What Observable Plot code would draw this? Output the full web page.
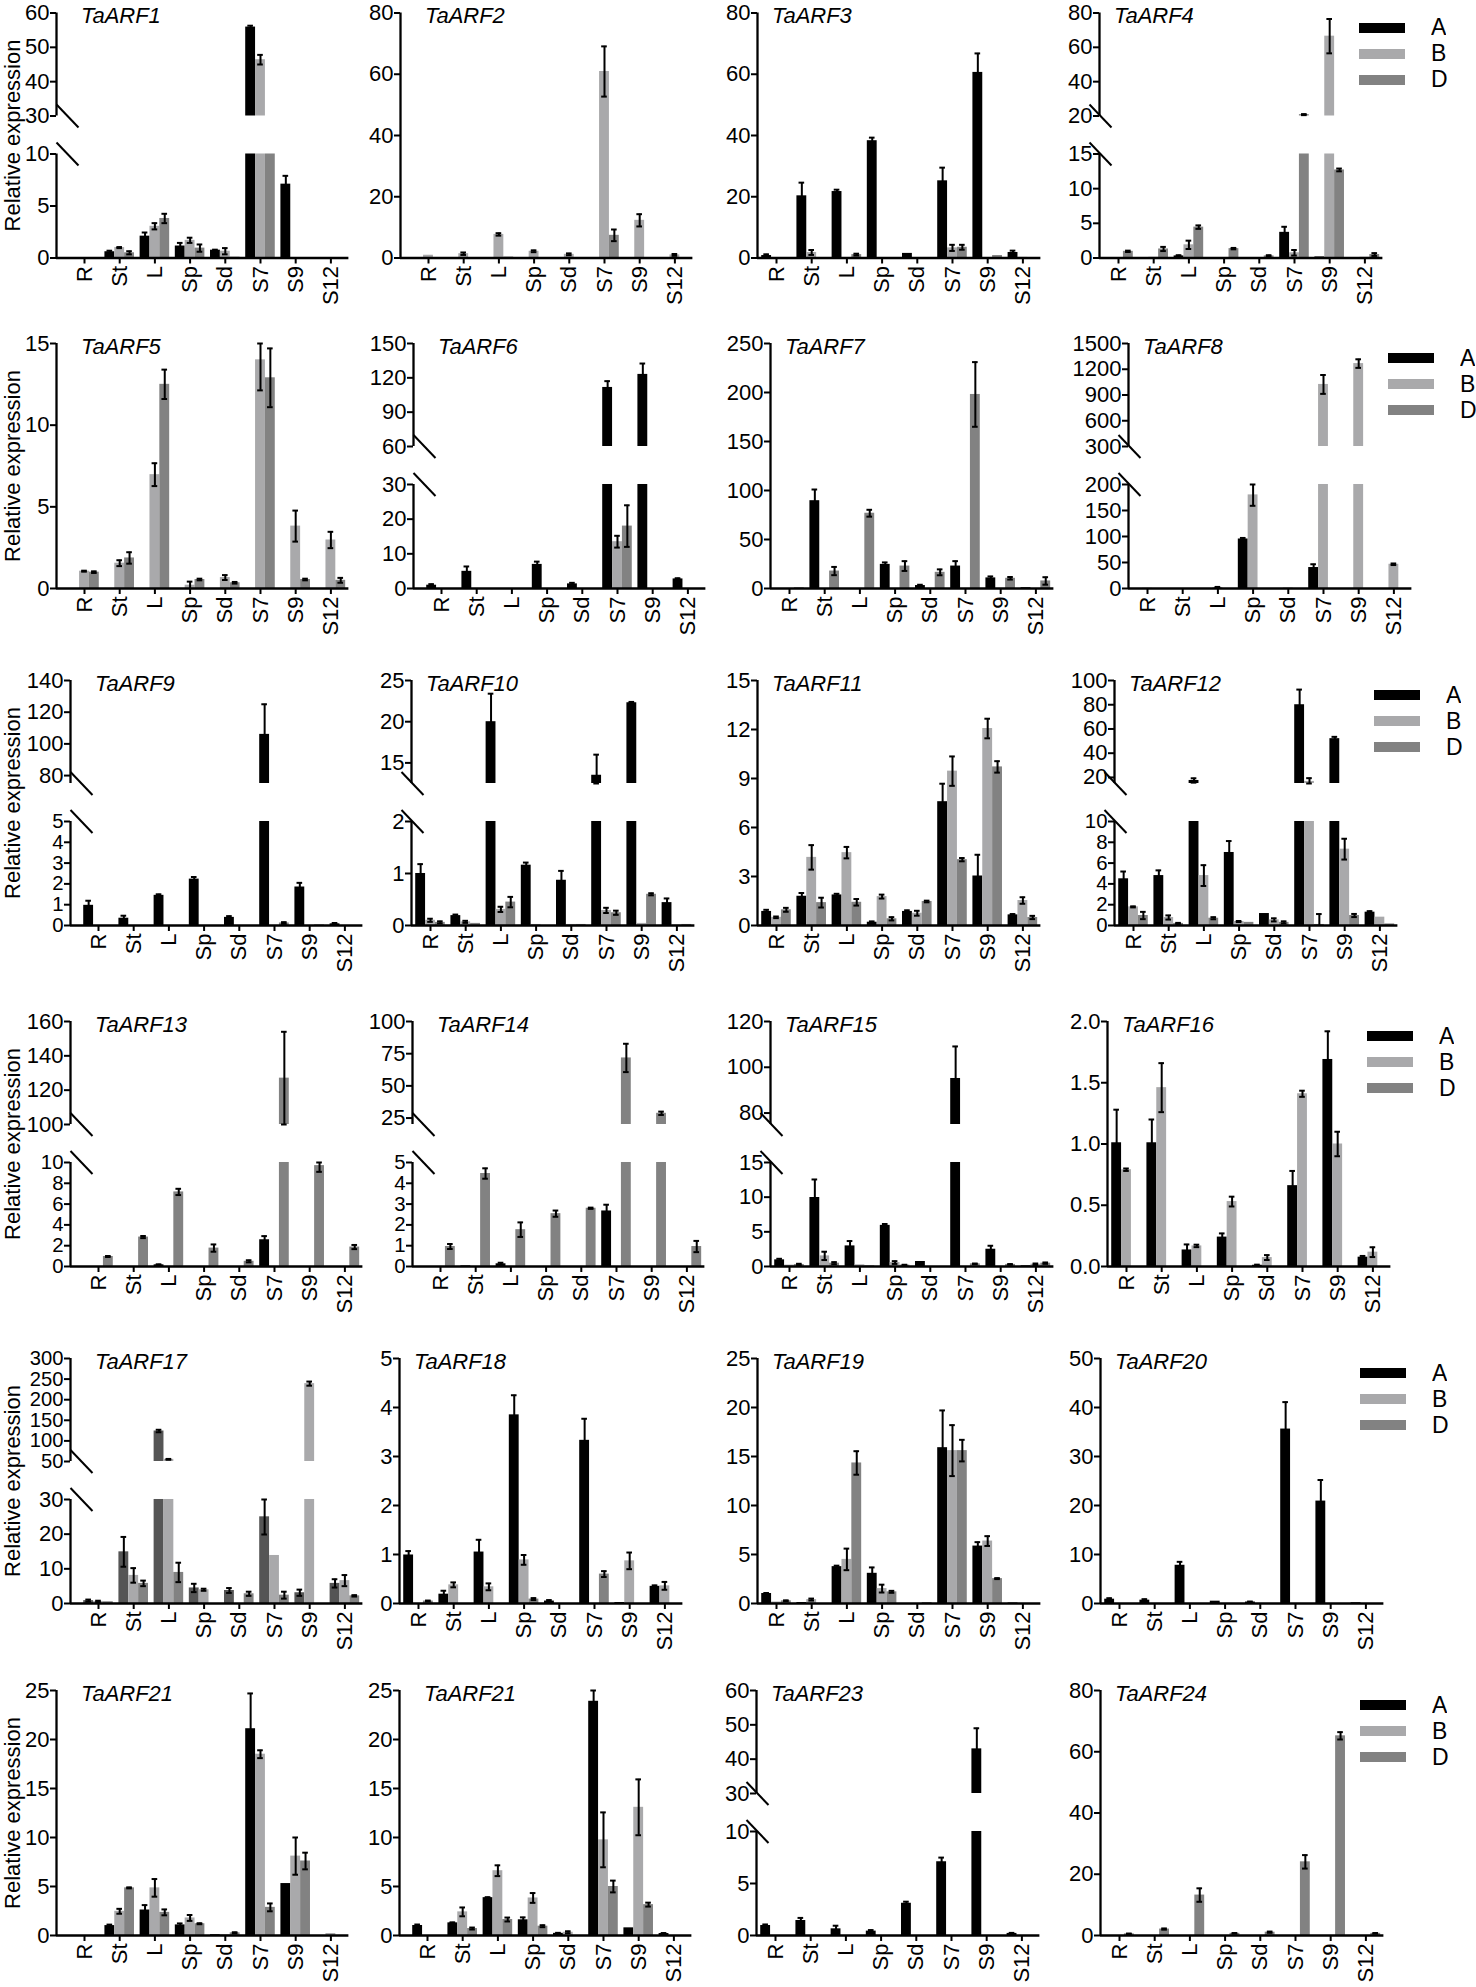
<!DOCTYPE html>
<html><head><meta charset="utf-8">
<script src="https://cdn.jsdelivr.net/npm/d3@7"></script>
<script src="https://cdn.jsdelivr.net/npm/@observablehq/plot@0.6"></script>
<style>
html,body{margin:0;padding:0;background:#fff;}
#fig{position:relative;width:1476px;height:1987px;overflow:hidden;background:#fff;font-family:"Liberation Sans",Arial,sans-serif;}
#fig > .panel{position:absolute;}
#fig > .legend{position:absolute;}
.lgnd-swatch{height:26px;padding:0 !important;}
.lgnd-swatch > svg{margin-right:26px !important;}
</style></head><body><div id="fig"></div>
<script>
// ---------- categories ----------
const tissues = ["R", "St", "L", "Sp", "Sd", "S7", "S9", "S12"];
const genomes = ["A", "B", "D"];
const genomeColors = ["#000000", "#a9a9ab", "#828282"];

// ---------- values: [A], [B], [D] per tissue; and their error bars ----------
const arf1 = [[0, 0.6, 2.1, 1.15, 0.75, 55.9, 7.1, 0], [0, 1.0, 3.05, 1.7, 0.65, 46.4, 0, 0], [0, 0.5, 3.8, 0.95, 0.08, 12, 0, 0]];
const arf1Sd = [[0, 0.1, 0.35, 0.3, 0.05, 0.4, 0.8, 0], [0, 0.05, 0.3, 0.25, 0.3, 1.4, 0, 0], [0, 0.15, 0.45, 0.35, 0, 0, 0, 0]];
const arf2 = [[0, 0, 0, 0, 0, 0, 0, 0], [0.9, 1.4, 7.7, 2.2, 1.2, 60.9, 12.3, 1.0], [0, 0, 0.3, 0, 0, 7.4, 0, 0]];
const arf2Sd = [[0, 0, 0, 0, 0, 0, 0, 0], [0, 0.4, 0.4, 0.3, 0.3, 8.2, 2.0, 0.3], [0, 0, 0, 0, 0, 1.9, 0, 0]];
const arf3 = [[0.8, 20.3, 21.7, 38.3, 1.5, 25.2, 60.6, 1.8], [0, 1.8, 0.15, 0, 0, 3.3, 0, 0.2], [0, 0, 1.1, 0, 0, 3.5, 0.8, 0]];
const arf3Sd = [[0.4, 4.3, 0.6, 1.0, 0, 4.3, 6.2, 0.6], [0, 0.8, 0, 0, 0, 1.0, 0, 0], [0, 0, 0.3, 0, 0, 0.8, 0, 0]];
const arf4 = [[0, 0, 0.3, 0, 0, 3.7, 0.15, 0.05], [0, 0.1, 1.9, 0, 0, 0.75, 66.5, 0.1], [0.96, 1.3, 4.45, 1.35, 0.3, 20.8, 12.7, 0.5]];
const arf4Sd = [[0, 0, 0.1, 0, 0, 0.8, 0, 0], [0, 0, 0.6, 0, 0, 0.4, 10, 0], [0.1, 0.3, 0.25, 0.1, 0.1, 0.3, 0.2, 0.2]];
const arf5 = [[0, 0, 0, 0, 0, 0, 0, 0], [1.06, 1.55, 6.97, 0.2, 0.67, 14.0, 3.82, 2.97], [1.0, 1.87, 12.5, 0.55, 0.35, 12.9, 0.55, 0.5]];
const arf5Sd = [[0, 0, 0, 0, 0, 0, 0, 0], [0.03, 0.18, 0.7, 0.22, 0.15, 1.87, 0.95, 0.5], [0.05, 0.35, 0.9, 0.05, 0.05, 1.8, 0.05, 0.15]];
const arf6 = [[0.95, 4.95, 0, 6.95, 1.33, 111.6, 123, 2.76], [0, 0, 0, 0, 0, 13.5, 0, 0], [0, 0, 0, 0, 0, 18.0, 0, 0]];
const arf6Sd = [[0.3, 1.4, 0, 0.8, 0.3, 5.5, 9.5, 0.2], [0, 0, 0, 0, 0, 1.7, 0, 0], [0, 0, 0, 0, 0, 6.0, 0, 0]];
const arf7 = [[0, 89.6, 0, 24.6, 3.0, 22.9, 10.8, 0.8], [0, 0, 0, 0, 0, 0, 0, 0], [0.8, 17.8, 76.8, 22.9, 16.5, 198, 10.4, 7.7]];
const arf7Sd = [[0, 11.4, 0, 2.0, 0.8, 5.0, 1.5, 0], [0, 0, 0, 0, 0, 0, 0, 0], [0, 4.2, 3.5, 5.0, 3.0, 33, 1.3, 3.8]];
const arf8 = [[0, 0, 0, 95.2, 0, 40.3, 0, 0], [0.5, 0, 2, 180, 1, 1023, 1266, 46.6], [0, 0, 0, 0, 0, 0, 0, 0]];
const arf8Sd = [[0, 0, 0, 2.0, 0, 6.3, 0, 0], [0, 0, 1, 21, 0, 110, 50, 1.5], [0, 0, 0, 0, 0, 0, 0, 0]];
const arf9 = [[0.97, 0.35, 1.45, 2.23, 0.39, 106, 1.85, 0.08], [0, 0, 0, 0, 0, 0, 0, 0], [0, 0, 0, 0, 0, 0.12, 0.03, 0]];
const arf9Sd = [[0.22, 0.12, 0.05, 0.1, 0.06, 19, 0.2, 0.04], [0, 0, 0, 0, 0, 0, 0, 0], [0, 0, 0, 0, 0, 0.04, 0, 0]];
const arf10 = [[1.0, 0.19, 20, 1.16, 0.87, 13.5, 22.3, 0.44], [0.1, 0.07, 0.31, 0.02, 0.02, 0.29, 0.04, 0.01], [0.06, 0.04, 0.45, 0, 0.02, 0.245, 0.6, 0.02]];
const arf10Sd = [[0.18, 0.02, 3.4, 0.05, 0.18, 2.5, 0.1, 0.08], [0.03, 0.02, 0.05, 0, 0, 0.05, 0, 0], [0.02, 0, 0.1, 0, 0, 0.04, 0.02, 0]];
const arf11 = [[0.86, 1.79, 1.87, 0.2, 0.86, 7.58, 3.03, 0.65], [0.5, 4.17, 4.46, 1.77, 0.75, 9.45, 12.06, 1.53], [0.96, 1.4, 1.42, 0.41, 1.47, 4.03, 9.71, 0.49]];
const arf11Sd = [[0.1, 0.2, 0.07, 0.05, 0.07, 1.1, 1.3, 0.05], [0.05, 0.75, 0.35, 0.12, 0.15, 0.9, 0.6, 0.2], [0.12, 0.3, 0.2, 0.1, 0.05, 0.1, 0.35, 0.1]];
const arf12 = [[4.49, 4.8, 17.5, 7.02, 1.15, 80, 52, 1.28], [1.79, 0.77, 4.8, 0.38, 0.54, 16.7, 7.34, 0.8], [0.96, 0.2, 0.7, 0.3, 0.3, 0.1, 0.96, 0.15]];
const arf12Sd = [[0.7, 0.5, 1.8, 1.1, 0, 12.5, 1.5, 0.1], [0.05, 0.2, 1.0, 0.05, 0.15, 2.7, 1.0, 0], [0.35, 0.05, 0.1, 0, 0.1, 1.0, 0.15, 0]];
const arf13 = [[0, 0, 0.16, 0, 0, 2.57, 0, 0], [0, 0, 0, 0, 0, 0, 0, 0], [0.96, 2.83, 7.17, 1.77, 0.5, 127, 9.7, 1.87]];
const arf13Sd = [[0, 0, 0.05, 0, 0, 0.35, 0, 0], [0, 0, 0, 0, 0, 0, 0, 0], [0.05, 0.1, 0.3, 0.35, 0.1, 27, 0.6, 0.2]];
const arf14 = [[0, 0.03, 0.13, 0, 0, 2.67, 0, 0], [0, 0, 0, 0, 0, 0, 0, 0], [0.96, 4.47, 1.77, 2.54, 2.8, 71.7, 28.7, 0.96]];
const arf14Sd = [[0, 0, 0.05, 0, 0, 0.3, 0, 0], [0, 0, 0, 0, 0, 0, 0, 0], [0.12, 0.25, 0.35, 0.15, 0.03, 11, 1.3, 0.27]];
const arf15 = [[0.96, 9.95, 2.97, 5.93, 0.72, 95.1, 2.49, 0.1], [0.2, 1.53, 0.24, 0.57, 0, 0, 0, 0.33], [0.29, 0.48, 0.1, 0.2, 0, 0.38, 0.3, 0.48]];
const arf15Sd = [[0.15, 2.6, 0.7, 0.2, 0, 14, 0.5, 0], [0, 0.6, 0, 0.2, 0, 0, 0, 0.1], [0.1, 0.15, 0, 0.05, 0, 0.05, 0.05, 0.1]];
const arf16 = [[1.01, 1.01, 0.135, 0.24, 0.01, 0.66, 1.69, 0.076], [0.79, 1.46, 0.168, 0.53, 0.073, 1.41, 1.0, 0.117], [0, 0, 0, 0, 0, 0, 0, 0]];
const arf16Sd = [[0.27, 0.19, 0.045, 0.03, 0.005, 0.12, 0.23, 0.01], [0.01, 0.2, 0.01, 0.04, 0.02, 0.025, 0.1, 0.04], [0, 0, 0, 0, 0, 0, 0, 0]];
const arf17 = [[0.83, 14.9, 124, 4.48, 3.75, 25, 3.1, 5.8], [0.6, 8.1, 55.2, 3.96, 0, 13.85, 239, 6.6], [0.5, 5.8, 8.96, 0, 2.8, 2.4, 0, 2.2]];
const arf17Sd = [[0.3, 4.3, 3, 1.2, 0.7, 5.1, 0.9, 1.2], [0.2, 2.1, 1, 0.3, 0, 0, 5, 1.6], [0, 0.8, 2.8, 0, 0.6, 1.0, 0, 0.2]];
const arf18 = [[0.99, 0.19, 1.05, 3.85, 0.05, 3.33, 0.02, 0.35], [0, 0.38, 0.34, 0.89, 0, 0, 0.87, 0.36], [0.05, 0, 0, 0.09, 0, 0.6, 0, 0]];
const arf18Sd = [[0.08, 0.07, 0.25, 0.4, 0.02, 0.44, 0, 0.02], [0, 0.05, 0.07, 0.1, 0, 0, 0.17, 0.08], [0.01, 0, 0, 0.02, 0, 0.06, 0, 0]];
const arf19 = [[1.02, 0.1, 3.76, 3.08, 0, 15.9, 5.86, 0.05], [0.15, 0.4, 4.5, 1.52, 0, 15.6, 6.37, 0], [0.27, 0, 14.34, 1.19, 0.1, 15.6, 2.54, 0]];
const arf19Sd = [[0.05, 0, 0.1, 0.6, 0, 3.8, 0.4, 0], [0, 0.1, 1.1, 0.4, 0, 2.6, 0.5, 0], [0.05, 0, 1.2, 0.1, 0, 1.1, 0.05, 0]];
const arf20 = [[0.88, 0.68, 7.8, 0.47, 0.3, 35.6, 20.9, 0.15], [0, 0, 0, 0, 0, 0, 0, 0], [0, 0, 0, 0, 0, 0, 0, 0]];
const arf20Sd = [[0.2, 0.2, 0.7, 0, 0.1, 5.5, 4.3, 0], [0, 0, 0, 0, 0, 0, 0, 0], [0, 0, 0, 0, 0, 0, 0, 0]];
const arf21 = [[0, 1.01, 2.6, 1.08, 0.08, 21.1, 5.3, 0], [0, 2.47, 4.86, 1.79, 0.1, 18.5, 8.1, 0.2], [0, 4.86, 2.36, 1.2, 0.27, 2.87, 7.6, 0]];
const arf21Sd = [[0, 0.1, 0.5, 0.15, 0, 3.6, 0, 0], [0, 0.25, 0.9, 0.3, 0, 0.4, 1.9, 0], [0, 0.05, 0.3, 0.05, 0.06, 0.4, 0.85, 0]];
const arf22 = [[1.02, 1.29, 3.86, 1.6, 0.22, 23.9, 0.78, 0.2], [0, 2.41, 6.61, 3.83, 0.33, 9.76, 13.08, 0], [0, 0.71, 1.63, 0.95, 0, 5.0, 3.15, 0]];
const arf22Sd = [[0.1, 0.05, 0.05, 0.25, 0.05, 1.2, 0, 0.05], [0, 0.45, 0.55, 0.5, 0.1, 2.8, 2.85, 0], [0, 0.1, 0.2, 0.1, 0, 0.6, 0.2, 0]];
const arf23 = [[0.96, 1.44, 0.64, 0.42, 3.1, 7.09, 43, 0.2], [0, 0, 0, 0, 0, 0, 0, 0], [0, 0, 0, 0, 0, 0, 0, 0]];
const arf23Sd = [[0.1, 0.25, 0.3, 0.1, 0.15, 0.4, 6, 0.05], [0, 0, 0, 0, 0, 0, 0, 0], [0, 0, 0, 0, 0, 0, 0, 0]];
const arf24 = [[0, 0, 0, 0, 0, 0, 0, 0], [0, 0, 0, 0, 0, 0, 0, 0], [0.54, 2.1, 13.2, 0.7, 1.08, 24.05, 65.2, 0.7]];
const arf24Sd = [[0, 0, 0, 0, 0, 0, 0, 0], [0, 0, 0, 0, 0, 0, 0, 0], [0.1, 0.2, 2.2, 0.1, 0.2, 2.2, 1.2, 0.1]];

// ---------- y-axis tick labels per panel ----------
const ticks1 = [0, 5, 10, 30, 40, 50, 60];
const ticks2 = [0, 20, 40, 60, 80];
const ticks3 = [0, 20, 40, 60, 80];
const ticks4 = [0, 5, 10, 15, 20, 40, 60, 80];
const ticks5 = [0, 5, 10, 15];
const ticks6 = [0, 10, 20, 30, 60, 90, 120, 150];
const ticks7 = [0, 50, 100, 150, 200, 250];
const ticks8 = [0, 50, 100, 150, 200, 300, 600, 900, 1200, 1500];
const ticks9 = [0, 1, 2, 3, 4, 5, 80, 100, 120, 140];
const ticks10 = [0, 1, 2, 15, 20, 25];
const ticks11 = [0, 3, 6, 9, 12, 15];
const ticks12 = [0, 2, 4, 6, 8, 10, 20, 40, 60, 80, 100];
const ticks13 = [0, 2, 4, 6, 8, 10, 100, 120, 140, 160];
const ticks14 = [0, 1, 2, 3, 4, 5, 25, 50, 75, 100];
const ticks15 = [0, 5, 10, 15, 80, 100, 120];
const ticks16 = [0, 0.5, 1.0, 1.5, 2.0];
const ticks17 = [0, 10, 20, 30, 50, 100, 150, 200, 250, 300];
const ticks18 = [0, 1, 2, 3, 4, 5];
const ticks19 = [0, 5, 10, 15, 20, 25];
const ticks20 = [0, 10, 20, 30, 40, 50];
const ticks21 = [0, 5, 10, 15, 20, 25];
const ticks22 = [0, 5, 10, 15, 20, 25];
const ticks23 = [0, 5, 10, 30, 40, 50, 60];
const ticks24 = [0, 20, 40, 60, 80];

// ---------- panel configuration (axis domains, breaks) ----------
const panels = [
  {title: "TaARF1", v: arf1, sd: arf1Sd, ticks: ticks1, brk: [10, 30], max: 60, lead: "wide", axisX: 56},
  {title: "TaARF2", v: arf2, sd: arf2Sd, ticks: ticks2, max: 80, lead: "wide", axisX: 400},
  {title: "TaARF3", v: arf3, sd: arf3Sd, ticks: ticks3, max: 80, lead: "narrow", axisX: 757},
  {title: "TaARF4", v: arf4, sd: arf4Sd, ticks: ticks4, brk: [15, 20], max: 80, lead: "narrow", axisX: 1099},
  {title: "TaARF5", v: arf5, sd: arf5Sd, ticks: ticks5, max: 15, lead: "wide", axisX: 56},
  {title: "TaARF6", v: arf6, sd: arf6Sd, ticks: ticks6, brk: [30, 60], max: 150, lead: "wide", axisX: 413},
  {title: "TaARF7", v: arf7, sd: arf7Sd, ticks: ticks7, max: 250, lead: "narrow", axisX: 770},
  {title: "TaARF8", v: arf8, sd: arf8Sd, ticks: ticks8, brk: [200, 300], max: 1500, lead: "narrow", axisX: 1128},
  {title: "TaARF9", v: arf9, sd: arf9Sd, ticks: ticks9, brk: [5, 75], max: 140, lead: "wide", axisX: 70},
  {title: "TaARF10", v: arf10, sd: arf10Sd, ticks: ticks10, brk: [2, 12.5], max: 25, lead: "narrow", axisX: 411},
  {title: "TaARF11", v: arf11, sd: arf11Sd, ticks: ticks11, max: 15, lead: "narrow", axisX: 757},
  {title: "TaARF12", v: arf12, sd: arf12Sd, ticks: ticks12, brk: [10, 15], max: 100, lead: "narrow", axisX: 1114},
  {title: "TaARF13", v: arf13, sd: arf13Sd, ticks: ticks13, brk: [10, 100], max: 160, lead: "wide", axisX: 70},
  {title: "TaARF14", v: arf14, sd: arf14Sd, ticks: ticks14, brk: [5, 20], max: 100, lead: "wide", axisX: 412},
  {title: "TaARF15", v: arf15, sd: arf15Sd, ticks: ticks15, brk: [15, 75], max: 120, lead: "narrow", axisX: 770},
  {title: "TaARF16", v: arf16, sd: arf16Sd, ticks: ticks16, max: 2, lead: "narrow", axisX: 1107, fmt: ".1f"},
  {title: "TaARF17", v: arf17, sd: arf17Sd, ticks: ticks17, brk: [30, 50], max: 300, lead: "wide", axisX: 70, aColor: "#555555"},
  {title: "TaARF18", v: arf18, sd: arf18Sd, ticks: ticks18, max: 5, lead: "narrow", axisX: 399},
  {title: "TaARF19", v: arf19, sd: arf19Sd, ticks: ticks19, max: 25, lead: "narrow", axisX: 757},
  {title: "TaARF20", v: arf20, sd: arf20Sd, ticks: ticks20, max: 50, lead: "narrow", axisX: 1100},
  {title: "TaARF21", v: arf21, sd: arf21Sd, ticks: ticks21, max: 25, lead: "wide", axisX: 56},
  {title: "TaARF21", v: arf22, sd: arf22Sd, ticks: ticks22, max: 25, lead: "wide", axisX: 399},
  {title: "TaARF23", v: arf23, sd: arf23Sd, ticks: ticks23, brk: [10, 30], max: 60, lead: "narrow", axisX: 756},
  {title: "TaARF24", v: arf24, sd: arf24Sd, ticks: ticks24, max: 80, lead: "narrow", axisX: 1100}
];

// ---------- layout ----------
const FONT = "'Liberation Sans', Arial, Helvetica, sans-serif";
const GROUP = 35.2;           // px per tissue group
const FRAME_H = 245;          // plot frame height
const LEAD = {wide: 28, narrow: 19};
const TITLE_DX = {wide: 24.5, narrow: 14.5};
const SLASH_DX = {wide: 11, narrow: 1};
const TRAIL = 18;
const rowTops = [12.5, 343, 680, 1021, 1358, 1690];
const LOWER_H = 104, GAP_H = 38;
const UPPER_H = FRAME_H - LOWER_H - GAP_H;
const BAR_W = 0.28;
const offsets = [-BAR_W, 0, BAR_W];
const TICK_FONT = 22;

const slashSymbol = {draw(ctx) { ctx.moveTo(-11, -11.5); ctx.lineTo(11, 11.5); }};
const fig = document.getElementById("fig");

function minStep(arr) {
  let s = Infinity;
  for (let i = 1; i < arr.length; ++i) s = Math.min(s, arr[i] - arr[i - 1]);
  return s;
}

panels.forEach((p, k) => {
  const row = Math.floor(k / 4), col = k % 4;
  const xmin = -LEAD[p.lead] / GROUP, xmax = 7 + TRAIL / GROUP;
  const fw = GROUP * (xmax - xmin);
  const ml = col === 0 ? p.axisX : 78;
  const mt = Math.min(16, rowTops[row]), mb = 62, mr = 8;
  const W = ml + fw + mr, H = mt + FRAME_H + mb;
  const y0 = mt + FRAME_H;
  const yScale = p.brk
    ? {type: "linear", domain: [0, p.brk[0], p.brk[1], p.max], range: [y0, y0 - LOWER_H, y0 - LOWER_H - GAP_H, mt]}
    : {type: "linear", domain: [0, p.max], range: [y0, mt]};
  const lowMax = p.brk ? p.brk[0] : p.max;

  const rows = [];
  genomes.forEach((g, gi) => p.v[gi].forEach((v, i) => rows.push({i, g, gi, v, e: p.sd[gi][i], c: i + offsets[gi]})));

  const marks = [];
  genomes.forEach((g, gi) => {
    const fill = (gi === 0 && p.aColor) ? p.aColor : genomeColors[gi];
    const bars = rows.filter(d => d.gi === gi && d.v > 0);
    marks.push(Plot.rect(bars, {x1: d => d.c - BAR_W / 2, x2: d => d.c + BAR_W / 2, y1: 0, y2: d => Math.min(d.v, lowMax), fill}));
    if (p.brk) {
      const up = bars.filter(d => d.v > p.brk[1]);
      marks.push(Plot.rect(up, {x1: d => d.c - BAR_W / 2, x2: d => d.c + BAR_W / 2, y1: p.brk[1], y2: d => Math.min(d.v, p.max), fill}));
    }
  });

  const errs = rows.filter(d => d.e > 0 && d.v > 0).map(d => {
    let lo = d.v - d.e, hi = d.v + d.e;
    if (p.brk) {
      if (d.v <= p.brk[0]) { lo = Math.max(0, lo); hi = Math.min(hi, p.brk[0]); }
      else if (d.v >= p.brk[1]) { lo = Math.max(lo, p.brk[1]); hi = Math.min(hi, p.max); }
      else return null;
    } else { lo = Math.max(0, lo); hi = Math.min(hi, p.max); }
    return {...d, lo, hi};
  }).filter(Boolean);
  const CAP = 0.08;
  marks.push(
    Plot.ruleX(errs, {x: "c", y1: "lo", y2: "hi", stroke: "black", strokeWidth: 2}),
    Plot.ruleY(errs, {y: "hi", x1: d => d.c - CAP, x2: d => d.c + CAP, stroke: "black", strokeWidth: 2}),
    Plot.ruleY(errs.filter(d => d.lo > 0), {y: "lo", x1: d => d.c - CAP, x2: d => d.c + CAP, stroke: "black", strokeWidth: 2})
  );

  // y axis: one axis per segment, tick-label size limited by the tick spacing of that segment
  const fmt = p.fmt ? d3.format(p.fmt) : (d => String(d));
  const segTicks = p.brk
    ? [{t: p.ticks.filter(t => t <= p.brk[0]), px: LOWER_H / p.brk[0]},
       {t: p.ticks.filter(t => t >= p.brk[1]), px: UPPER_H / (p.max - p.brk[1])}]
    : [{t: p.ticks, px: FRAME_H / p.max}];
  segTicks.forEach(s => {
    const spacing = minStep(s.t) * s.px;
    const fs = Math.min(TICK_FONT, spacing - 0.4);
    marks.push(Plot.axisY({ticks: s.t, tickFormat: fmt, tickSize: 6, tickPadding: 1, strokeWidth: 2, fontSize: fs, label: null}));
  });

  const segs = p.brk ? [[0, p.brk[0]], [p.brk[1], p.max]] : [[0, p.max]];
  marks.push(
    Plot.ruleY([0], {stroke: "black", strokeWidth: 2.3}),
    Plot.ruleX(segs, {x: xmin, y1: d => d[0], y2: d => d[1], stroke: "black", strokeWidth: 2.3}),
    Plot.axisX({ticks: d3.range(tissues.length), tickFormat: i => tissues[i], tickRotate: -90, tickSize: 6, tickPadding: 2, strokeWidth: 2, fontSize: 22, label: null}),
    Plot.text([p.title], {text: d => d, frameAnchor: "top-left", dx: TITLE_DX[p.lead], dy: 3, textAnchor: "start", lineAnchor: "middle", fontStyle: "italic", fontSize: 22, fill: "black"})
  );
  if (p.brk) {
    marks.push(Plot.dot(p.brk, {x: xmin, y: d => d, symbol: slashSymbol, r: 6, fill: "none", stroke: "black", strokeWidth: 2, dx: SLASH_DX[p.lead]}));
  }
  if (col === 0) {
    marks.push(Plot.text(["Relative expression"], {text: d => d, frameAnchor: "left", rotate: -90, dx: -(p.axisX - 12), textAnchor: "middle", lineAnchor: "middle", fontSize: 22, fill: "black"}));
  }

  const svg = Plot.plot({
    width: W, height: H,
    marginLeft: ml, marginRight: mr, marginTop: mt, marginBottom: mb,
    x: {domain: [xmin, xmax]},
    y: yScale,
    style: {fontFamily: FONT, fontSize: "22px", color: "black", background: "transparent", overflow: "visible"},
    marks
  });
  svg.classList.add("panel");
  svg.style.position = "absolute";
  svg.style.left = (p.axisX - ml) + "px";
  svg.style.top = (rowTops[row] - mt) + "px";
  fig.appendChild(svg);

  if (col === 3) {
    const lg = Plot.legend({
      color: {type: "ordinal", domain: genomes, range: genomeColors},
      legend: "swatches", columns: 1, swatchWidth: 46, swatchHeight: 10, className: "lgnd",
      style: {fontFamily: FONT, fontSize: "23px", color: "black", margin: "0"}
    });
    lg.classList.add("legend");
    lg.style.position = "absolute";
    lg.style.left = (p.axisX + 260) + "px";
    lg.style.top = (rowTops[row] + 2) + "px";
    lg.style.width = "110px";
    fig.appendChild(lg);
  }
});
</script>
</body></html>
